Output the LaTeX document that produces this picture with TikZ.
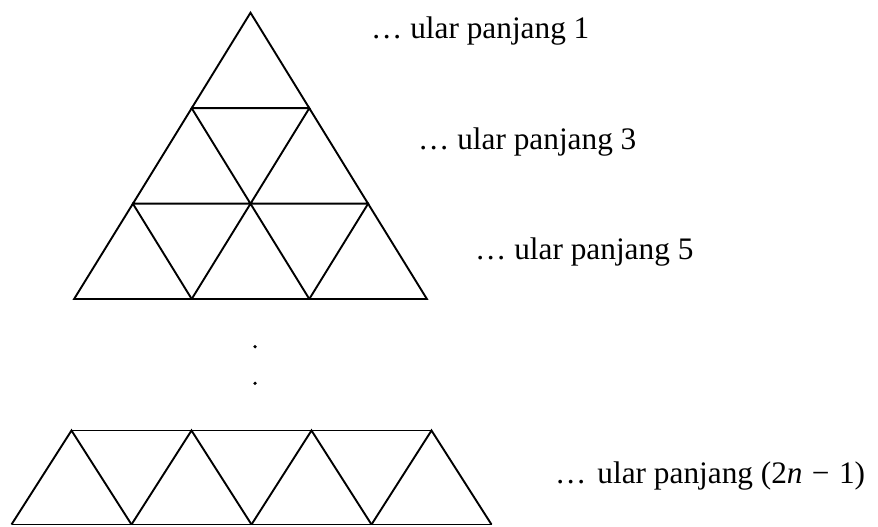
\documentclass[tikz,border=0pt]{standalone}
\usepackage{fontspec}
\setmainfont{Liberation Serif}
\begin{document}
\begin{tikzpicture}[x=1bp,y=-1bp,
  edge/.style={line width=1.9bp,line join=miter,line cap=butt},
  lbl/.style={anchor=base west,inner sep=0pt,font=\fontsize{31.3bp}{37bp}\selectfont},
  dotmark/.style={fill=black}]
\useasboundingbox (0,0) rectangle (878,527);
% big triangle
\foreach \r/\ya/\yb in {0/12.7/108.2,1/108.2/203.7,2/203.7/299}{
  \pgfmathtruncatemacro{\rr}{\r}
  \foreach \k in {0,...,\rr}{
    \pgfmathsetmacro{\xa}{250.5-58.8*\r+117.6*\k}
    \coordinate (t\r\k) at (\xa,\ya);
    \coordinate (l\r\k) at (\xa-58.8,\yb);
    \coordinate (m\r\k) at (\xa+58.8,\yb);
    \draw[edge] (t\r\k) -- (l\r\k) -- (m\r\k) -- cycle;
  }
}
% bottom row
\foreach \k in {0,1,2,3}{
  \coordinate (bt\k) at (71.5+120*\k,430.5);
  \coordinate (bl\k) at (11.5+120*\k,524.5);
  \coordinate (br\k) at (131.5+120*\k,524.5);
  \draw[edge] (bl\k) -- (bt\k) -- (br\k);
}
\draw[edge] (bt0) -- (bt3);
\draw[edge] (bl0) -- (br3);
% vertical dots
\fill[dotmark] (255,346.7) circle (1.8);
\fill[dotmark] (255,383.3) circle (1.8);
% labels
\node[lbl] (L1) at (371,38.3) {… ular panjang 1};
\node[lbl] (L3) at (418,150) {… ular panjang 3};
\node[lbl] (L5) at (475,260) {… ular panjang 5};
\node[lbl] (Ln) at (555,483.3) {…\hspace{0.35em}ular panjang (2\textit{n}\hspace{0.3em}−\hspace{0.3em}1)};
\end{tikzpicture}
\end{document}
